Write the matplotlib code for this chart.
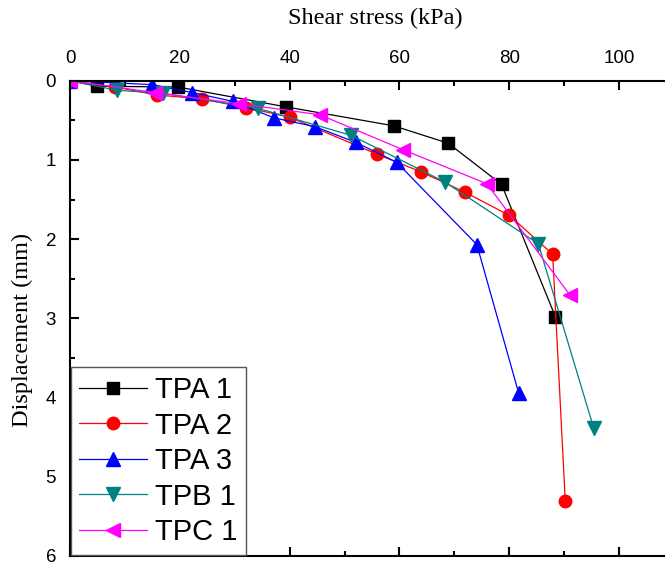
import numpy as np;
import matplotlib;
matplotlib.use("Agg");
import matplotlib.pyplot as plt;
from matplotlib.ticker import MultipleLocator;

# shear stress (kPa) vs displacement (mm)
tpa1_x = [0, 5.0, 19.7, 39.3, 59.0, 68.9, 78.6, 88.4];
tpa1_y = [0, 0.07, 0.08, 0.33, 0.57, 0.79, 1.31, 2.98];
tpa2_x = [0, 8.2, 15.8, 24.0, 32.1, 40.0, 56.0, 63.9, 72.0, 80.0, 87.9, 90.2];
tpa2_y = [0, 0.08, 0.18, 0.23, 0.34, 0.46, 0.93, 1.15, 1.41, 1.70, 2.19, 5.31];
tpa3_x = [0, 15.0, 22.3, 29.6, 37.2, 44.6, 52.1, 59.5, 74.1, 81.7];
tpa3_y = [0, 0.05, 0.15, 0.26, 0.47, 0.58, 0.78, 1.03, 2.07, 3.94];
tpb1_x = [0, 8.5, 17.0, 34.3, 51.2, 68.3, 85.3, 95.4];
tpb1_y = [0, 0.12, 0.16, 0.35, 0.69, 1.28, 2.06, 4.39];
tpc1_x = [0, 15.5, 30.8, 45.5, 60.6, 75.9, 91.1];
tpc1_y = [0, 0.15, 0.29, 0.43, 0.87, 1.30, 2.71];

series = [
    ("TPA 1", tpa1_x, tpa1_y, "black", "s", 8),
    ("TPA 2", tpa2_x, tpa2_y, "#FF0000", "o", 9),
    ("TPA 3", tpa3_x, tpa3_y, "#0000FF", "^", 10.5),
    ("TPB 1", tpb1_x, tpb1_y, "#008080", "v", 10.5),
    ("TPC 1", tpc1_x, tpc1_y, "#FF00FF", "<", 10.5),
];

W, H = 665, 562;
fig = plt.figure(figsize=(W / 100, H / 100), dpi=100);
ax = fig.add_axes([70 / W, 6 / H, (674 - 70) / W, (556 - 80.7) / H]);

for name, xs, ys, col, mk, ms in series:
    ax.plot(xs, ys, color=col, lw=0.9, marker=mk, ms=ms, mec=col, mfc=col, label=name);

ax.set_xlim(0, 110);
ax.set_ylim(6, 0);
ax.xaxis.set_major_locator(MultipleLocator(20));
ax.xaxis.set_minor_locator(MultipleLocator(10));
ax.yaxis.set_major_locator(MultipleLocator(1));
ax.yaxis.set_minor_locator(MultipleLocator(0.5));
ax.xaxis.tick_top();

ax.tick_params(which="both", direction="in", top=True, bottom=True, left=True, right=True,
               labeltop=True, labelbottom=False, labelleft=True, labelright=False, width=1.5);
ax.tick_params(which="major", length=6.5, labelsize=13.5, pad=10);
ax.tick_params(which="minor", length=3.5);
for lab in ax.get_xticklabels() + ax.get_yticklabels():
    lab.set_fontfamily("Liberation Sans");
for sp in ax.spines.values():
    sp.set_linewidth(1.5);

fig.text(375 / W, 1 - 18 / H, "Shear stress (kPa)", ha="center", va="center",
         fontsize=17.5, family="Liberation Serif");
fig.text(22 / W, 1 - 330 / H, "Displacement (mm)", ha="center", va="center", rotation=90,
         fontsize=17.5, family="Liberation Serif");

leg = ax.legend(loc="lower left", bbox_to_anchor=(70.7 / W, 7 / H), bbox_transform=fig.transFigure,
                borderaxespad=0, prop={"family": "Liberation Sans", "size": 21},
                handlelength=2.3, handletextpad=0.3, labelspacing=0.26, borderpad=0.3,
                fancybox=False, framealpha=1, edgecolor="#555555");
leg.get_frame().set_linewidth(1.0);

fig.savefig("out.png", dpi=100);
